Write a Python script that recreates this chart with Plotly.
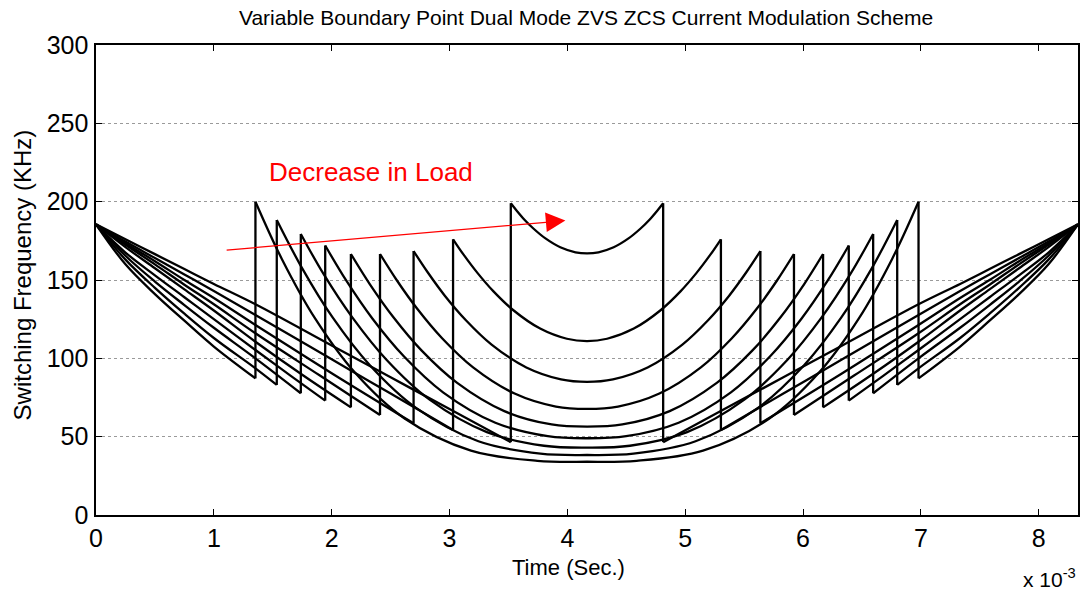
import plotly.graph_objects as go

# Time in milliseconds (axis shows x 10^-3 s), frequency in kHz.
# Each curve: falling ZVS part, jump, ZCS "U" part, jump, rising ZVS part.
c1_t = [0, 0.25, 0.5, 0.75, 1.0, 1.353,
        1.353, 1.578, 1.859, 2.197, 2.619, 3.182, 3.745, 4.167, 4.588, 5.151, 5.714, 6.136, 6.474, 6.755, 6.98,
        6.98, 7.333, 7.583, 7.833, 8.083, 8.333]
c1_f = [185.5, 160, 141, 124, 107.5, 87.2,
        200, 163.3, 125.5, 90.9, 61.6, 41.1, 34.6, 34, 34.6, 41.1, 61.6, 90.9, 125.5, 163.3, 200,
        87.2, 107.5, 124, 141, 160, 185.5]

c2_t = [0, 0.25, 0.5, 0.75, 1.0, 1.353, 1.534,
        1.534, 1.745, 2.008, 2.324, 2.719, 3.245, 3.772, 4.167, 4.561, 5.088, 5.614, 6.009, 6.325, 6.588, 6.799,
        6.799, 6.98, 7.333, 7.583, 7.833, 8.083, 8.333]
c2_f = [185.5, 163, 145, 128.5, 113, 93.6, 83,
        188.3, 158.1, 126.1, 95.6, 68.2, 47.1, 39.2, 38.3, 39.2, 47.1, 68.2, 95.6, 126.1, 158.1, 188.3,
        83, 93.6, 113, 128.5, 145, 163, 185.5]

c3_t = [0, 0.25, 0.5, 0.75, 1.0, 1.353, 1.738,
        1.738, 1.932, 2.175, 2.467, 2.831, 3.317, 3.802, 4.167, 4.531, 5.016, 5.502, 5.866, 6.158, 6.401, 6.595,
        6.595, 6.98, 7.333, 7.583, 7.833, 8.083, 8.333]
c3_f = [185.5, 165.5, 149, 134, 119.5, 100, 77.7,
        179.4, 153.7, 126.1, 98.9, 73.6, 52.9, 44.2, 43, 44.2, 52.9, 73.6, 98.9, 126.1, 153.7, 179.4,
        77.7, 100, 119.5, 134, 149, 165.5, 185.5]

c4_t = [0, 0.25, 0.5, 0.75, 1.0, 1.353, 1.65, 1.945,
        1.945, 2.123, 2.345, 2.612, 2.945, 3.389, 3.834, 4.167, 4.499, 4.944, 5.388, 5.721, 5.988, 6.21, 6.388,
        6.388, 6.683, 6.98, 7.333, 7.583, 7.833, 8.083, 8.333]
c4_f = [185.5, 167.5, 153, 139, 125, 105.3, 89, 73,
        172, 149.7, 125.4, 101.3, 78.3, 58.9, 50.3, 49, 50.3, 58.9, 78.3, 101.3, 125.4, 149.7, 172,
        73, 89, 105.3, 125, 139, 153, 167.5, 185.5]

c5_t = [0, 0.25, 0.5, 0.75, 1.0, 1.353, 1.75, 2.163,
        2.163, 2.323, 2.524, 2.764, 3.065, 3.465, 3.866, 4.167, 4.467, 4.868, 5.268, 5.569, 5.809, 6.01, 6.17,
        6.17, 6.583, 6.98, 7.333, 7.583, 7.833, 8.083, 8.333]
c5_f = [185.5, 171, 157.5, 144, 130.5, 110.6, 89.5, 68.7,
        166.6, 147.4, 126.2, 104.9, 84.3, 66.3, 57.8, 56.4, 57.8, 66.3, 84.3, 104.9, 126.2, 147.4, 166.6,
        68.7, 89.5, 110.6, 130.5, 144, 157.5, 171, 185.5]

c6_t = [0, 0.25, 0.5, 0.75, 1.0, 1.353, 1.9, 2.41,
        2.41, 2.551, 2.726, 2.937, 3.2, 3.552, 3.903, 4.167, 4.43, 4.781, 5.133, 5.396, 5.607, 5.782, 5.923,
        5.923, 6.433, 6.98, 7.333, 7.583, 7.833, 8.083, 8.333]
c6_f = [185.5, 172.5, 160, 147, 134.5, 116, 89, 63.8,
        166.6, 150, 131.6, 112.8, 94.2, 77.5, 69.2, 67.7, 69.2, 77.5, 94.2, 112.8, 131.6, 150, 166.6,
        63.8, 89, 116, 134.5, 147, 160, 172.5, 185.5]

c7_t = [0, 0.25, 0.5, 0.75, 1.0, 1.353, 2.0, 2.695,
        2.695, 2.813, 2.96, 3.137, 3.357, 3.652, 3.946, 4.167, 4.387, 4.681, 4.976, 5.196, 5.373, 5.52, 5.638,
        5.638, 6.333, 6.98, 7.333, 7.583, 7.833, 8.083, 8.333]
c7_f = [185.5, 173.5, 162, 150, 138.5, 121.3, 90.5, 58.5,
        168.5, 155.1, 140, 124.5, 108.8, 94.2, 86.6, 85, 86.6, 94.2, 108.8, 124.5, 140, 155.1, 168.5,
        58.5, 90.5, 121.3, 138.5, 150, 162, 173.5, 185.5]

c8_t = [0, 0.25, 0.5, 0.75, 1.0, 1.353, 2.0, 2.5, 3.03,
        3.03, 3.121, 3.235, 3.371, 3.542, 3.769, 3.996, 4.167, 4.337, 4.564, 4.791, 4.962, 5.098, 5.212, 5.303,
        5.303, 5.833, 6.333, 6.98, 7.333, 7.583, 7.833, 8.083, 8.333]
c8_f = [185.5, 174.5, 164, 153.5, 143, 127.7, 99.4, 77.5, 54.3,
        176, 166, 154.7, 142.9, 130.7, 119, 112.5, 111, 112.5, 119, 130.7, 142.9, 154.7, 166, 176,
        54.3, 77.5, 99.4, 127.7, 143, 153.5, 164, 174.5, 185.5]

c9_t = [0, 0.25, 0.5, 0.75, 1.0, 1.353, 2.0, 2.5, 3.0, 3.52,
        3.52, 3.572, 3.636, 3.714, 3.811, 3.94, 4.069, 4.167, 4.264, 4.393, 4.522, 4.619, 4.697, 4.761, 4.813,
        4.813, 5.333, 5.833, 6.333, 6.98, 7.333, 7.583, 7.833, 8.083, 8.333]
c9_f = [185.5, 176, 166.5, 157, 147.5, 134.5, 108.2, 87.9, 67.6, 46.5,
        199, 194.1, 188.5, 182.7, 176.7, 170.9, 167.7, 167, 167.7, 170.9, 176.7, 182.7, 188.5, 194.1, 199,
        46.5, 67.6, 87.9, 108.2, 134.5, 147.5, 157, 166.5, 176, 185.5]

x_ticks = [0, 1, 2, 3, 4, 5, 6, 7, 8]
y_ticks = [0, 50, 100, 150, 200, 250, 300]
x_range = [0, 8.3333]
y_range = [0, 300]

arrow_tail = (1.096, 169.0)
arrow_head = (3.983, 187.9)
label_xy = (1.452, 219.0)

curves = [(c1_t, c1_f), (c2_t, c2_f), (c3_t, c3_f), (c4_t, c4_f), (c5_t, c5_f),
          (c6_t, c6_f), (c7_t, c7_f), (c8_t, c8_f), (c9_t, c9_f)]

seg_x, seg_y, jump_x, jump_y = [], [], [], []
for t, f in curves:
    start = 0
    for i in range(len(t) - 1):
        if t[i] == t[i + 1]:
            seg_x += list(t[start:i + 1]) + [None]
            seg_y += list(f[start:i + 1]) + [None]
            jump_x += [t[i], t[i + 1], None]
            jump_y += [f[i], f[i + 1], None]
            start = i + 1
    seg_x += list(t[start:]) + [None]
    seg_y += list(f[start:]) + [None]

LW = 2.3
fig = go.Figure()
fig.add_trace(go.Scatter(x=seg_x, y=seg_y, mode="lines",
                         line=dict(color="black", width=LW, shape="spline", smoothing=1.0),
                         connectgaps=False, hoverinfo="skip", showlegend=False))
fig.add_trace(go.Scatter(x=jump_x, y=jump_y, mode="lines",
                         line=dict(color="black", width=LW),
                         connectgaps=False, hoverinfo="skip", showlegend=False))

FONT = "Liberation Sans, Arial, Helvetica, sans-serif"

fig.update_layout(
    width=1086, height=591, autosize=False,
    margin=dict(l=96, r=6, t=45, b=76),
    paper_bgcolor="white", plot_bgcolor="white",
    font=dict(family=FONT, color="black", size=22),
    title=dict(text="Variable Boundary Point Dual Mode ZVS ZCS Current Modulation Scheme",
               x=0.5396, xanchor="center", y=0.9695, yanchor="middle",
               font=dict(size=21, family=FONT, color="black")),
    showlegend=False,
)
fig.update_xaxes(range=x_range, tickmode="array", tickvals=x_ticks,
                 ticktext=[str(v) for v in x_ticks],
                 showgrid=False, zeroline=False,
                 showline=True, linecolor="black", linewidth=1.6, mirror="ticks",
                 ticks="inside", ticklen=6, tickwidth=1, tickcolor="black",
                 tickfont=dict(size=25, family=FONT), ticklabelstandoff=0)
fig.update_yaxes(range=y_range, tickmode="array", tickvals=y_ticks,
                 ticktext=[str(v) for v in y_ticks],
                 showgrid=True, gridcolor="#9a9a9a", griddash="dot", gridwidth=1,
                 zeroline=False,
                 showline=True, linecolor="black", linewidth=1.6, mirror="ticks",
                 ticks="inside", ticklen=6, tickwidth=1, tickcolor="black",
                 tickfont=dict(size=25, family=FONT), ticklabelstandoff=1)

fig.add_annotation(x=arrow_head[0], y=arrow_head[1], ax=arrow_tail[0], ay=arrow_tail[1],
                   xref="x", yref="y", axref="x", ayref="y", text="",
                   showarrow=True, arrowhead=2, arrowsize=3.0, arrowwidth=1.3, arrowcolor="red")
fig.add_annotation(x=label_xy[0], y=label_xy[1], xref="x", yref="y",
                   text="Decrease in Load", showarrow=False, xanchor="left", yanchor="middle",
                   font=dict(size=26, color="red", family=FONT))

fig.add_annotation(x=0.4807, y=-0.111, xref="paper", yref="paper", text="Time (Sec.)",
                   showarrow=False, xanchor="center", yanchor="middle",
                   font=dict(size=22, family=FONT))
fig.add_annotation(x=-0.0752, y=0.51, xref="paper", yref="paper", text="Switching Frequency (KHz)",
                   showarrow=False, xanchor="center", yanchor="middle", textangle=-90,
                   font=dict(size=24, family=FONT))
fig.add_annotation(x=1.0, y=-0.135, xref="paper", yref="paper", text="x 10<sup>-3</sup>",
                   showarrow=False, xanchor="right", yanchor="middle",
                   font=dict(size=21, family=FONT))

# Remove the default 8px page margin so the figure fills the window exactly.
fig.write_html("out.html", config={"displayModeBar": False, "staticPlot": True},
               post_script="document.body.style.margin='0';document.body.style.padding='0';")
